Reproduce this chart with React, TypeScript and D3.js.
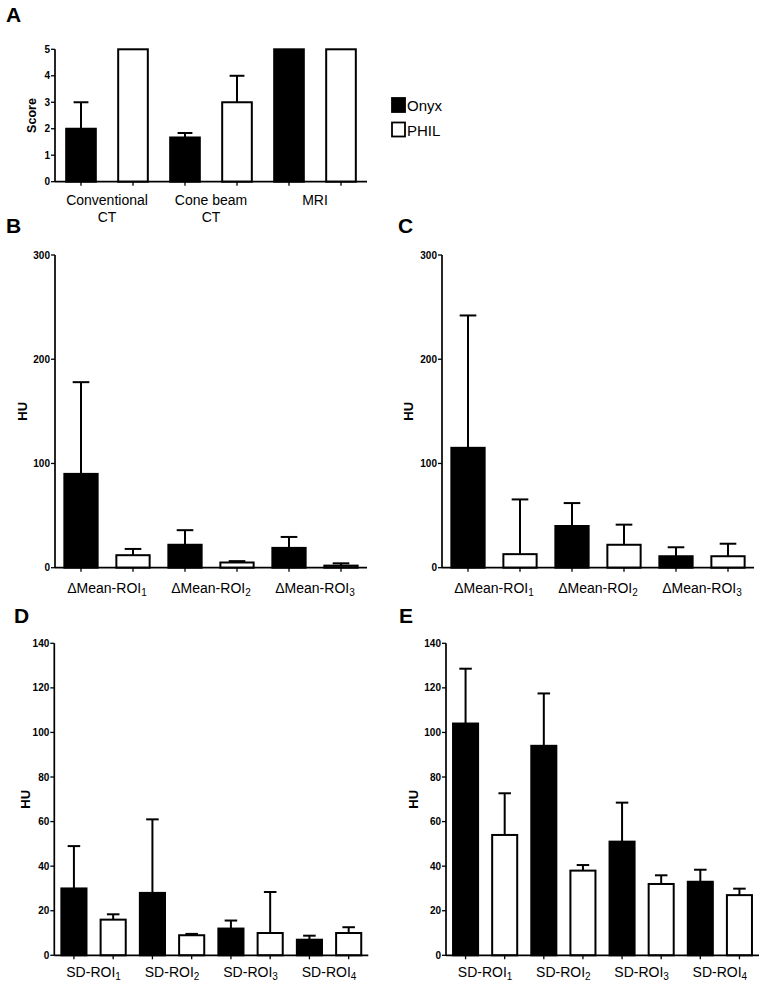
import React from "react";
import * as d3 from "d3";

const FONT = "'Liberation Sans', Arial, Helvetica, sans-serif";

const seriesNames = ["Onyx", "PHIL"];
const seriesFill = ["#000000", "#ffffff"];

// Panel A – qualitative score
const scoreCategories = [["Conventional", "CT"], ["Cone beam", "CT"], ["MRI"]];
const scoreOnyx = [2, 1.67, 5];
const scoreOnyxErr = [1, 0.17, 0];
const scorePhil = [5, 3, 5];
const scorePhilErr = [0, 1, 0];
const scoreTicks = [0, 1, 2, 3, 4, 5];

// Panels B & C – ΔMean-ROI
const meanPrefix = "ΔMean-ROI";
const meanSubscripts = ["1", "2", "3"];
const meanTicks = [0, 100, 200, 300];
const bOnyx = [90, 22, 19];
const bOnyxErr = [88, 14, 10.5];
const bPhil = [12, 5, 2];
const bPhilErr = [6, 1.3, 2.2];
const cOnyx = [115, 40, 11];
const cOnyxErr = [127, 22, 8.6];
const cPhil = [13, 22, 11];
const cPhilErr = [52.5, 19.3, 12];

// Panels D & E – SD-ROI
const sdPrefix = "SD-ROI";
const sdSubscripts = ["1", "2", "3", "4"];
const sdTicks = [0, 20, 40, 60, 80, 100, 120, 140];
const dOnyx = [30, 28, 12, 7];
const dOnyxErr = [19, 33, 3.6, 1.8];
const dPhil = [16, 9, 10, 10];
const dPhilErr = [2.4, 0.6, 18.4, 2.6];
const eOnyx = [104, 94, 51, 33];
const eOnyxErr = [24.6, 23.5, 17.5, 5.4];
const ePhil = [54, 38, 32, 27];
const ePhilErr = [18.7, 2.5, 3.9, 2.9];

type PanelProps = {
  letter: string;
  letterX: number;
  letterY: number;
  x0: number;
  x1: number;
  yZero: number;
  yTop: number;
  max: number;
  ticks: number[];
  pad: number;
  nCat: number;
  onyx: number[];
  onyxErr: number[];
  phil: number[];
  philErr: number[];
  yLabel: string;
  yLabelX: number;
  yLabelSize: number;
  labelY: number;
  renderLabel: (i: number, cx: number, y: number) => React.ReactNode;
};

function Panel(p: PanelProps) {
  const keys: string[] = [];
  for (let i = 0; i < p.nCat; i++) {
    keys.push(`${i}-0`);
    keys.push(`${i}-1`);
  }
  const x = d3
    .scaleBand<string>()
    .domain(keys)
    .range([p.x0, p.x1])
    .paddingInner(p.pad)
    .paddingOuter(p.pad / 2);
  const y = d3.scaleLinear().domain([0, p.max]).range([p.yZero, p.yTop]);
  const bw = x.bandwidth();
  const vals = [p.onyx, p.phil];
  const errs = [p.onyxErr, p.philErr];
  const bars: React.ReactNode[] = [];
  const errBars: React.ReactNode[] = [];
  for (let i = 0; i < p.nCat; i++) {
    for (let s = 0; s < 2; s++) {
      const key = `${i}-${s}`;
      const bx = x(key)!;
      const v = vals[s][i];
      const e = errs[s][i];
      const cx = bx + bw / 2;
      bars.push(
        <rect
          key={key}
          x={bx}
          y={y(v)}
          width={bw}
          height={y(0) - y(v)}
          fill={seriesFill[s]}
          stroke="#000"
          strokeWidth={2}
        />
      );
      if (e > 0) {
        errBars.push(
          <g key={key + "e"} stroke="#000" strokeWidth={2}>
            <line x1={cx} x2={cx} y1={y(v)} y2={y(v + e)} />
            <line x1={cx - bw / 4} x2={cx + bw / 4} y1={y(v + e)} y2={y(v + e)} />
          </g>
        );
      }
    }
  }
  const midY = (p.yZero + p.yTop) / 2;
  return (
    <g>
      <text x={p.letterX} y={p.letterY} fontSize={21} fontWeight="bold" fontFamily={FONT}>
        {p.letter}
      </text>
      {bars}
      {errBars}
      {/* y axis */}
      <line x1={p.x0} x2={p.x0} y1={y(0)} y2={y(p.max)} stroke="#000" strokeWidth={1.7} />
      {p.ticks.map((t) => (
        <g key={t}>
          <line x1={p.x0 - 4} x2={p.x0} y1={y(t)} y2={y(t)} stroke="#000" strokeWidth={1.3} />
          <text
            x={p.x0 - 5}
            y={y(t)}
            dy="0.35em"
            textAnchor="end"
            fontSize={10}
            fontWeight="bold"
            fontFamily={FONT}
          >
            {t}
          </text>
        </g>
      ))}
      {/* x axis */}
      <line x1={p.x0} x2={p.x1} y1={y(0)} y2={y(0)} stroke="#000" strokeWidth={1.7} />
      {keys.map((k) => (
        <line
          key={k}
          x1={x(k)! + bw / 2}
          x2={x(k)! + bw / 2}
          y1={y(0)}
          y2={y(0) + 4}
          stroke="#000"
          strokeWidth={1.3}
        />
      ))}
      <text
        transform={`translate(${p.yLabelX},${midY}) rotate(-90)`}
        textAnchor="middle"
        dy="0.35em"
        fontSize={p.yLabelSize}
        fontWeight="bold"
        fontFamily={FONT}
      >
        {p.yLabel}
      </text>
      {Array.from({ length: p.nCat }, (_, i) => {
        const c0 = x(`${i}-0`)! + bw / 2;
        const c1 = x(`${i}-1`)! + bw / 2;
        return <g key={"l" + i}>{p.renderLabel(i, (c0 + c1) / 2, p.labelY)}</g>;
      })}
    </g>
  );
}

const subLabel = (prefix: string, subs: string[]) => (i: number, cx: number, yy: number) => (
  <text x={cx} y={yy} textAnchor="middle" fontSize={14} fontFamily={FONT}>
    {prefix}
    <tspan fontSize={10} dy={3}>
      {subs[i]}
    </tspan>
  </text>
);

const scoreLabel = (i: number, cx: number, yy: number) => (
  <text x={cx} y={yy} textAnchor="middle" fontSize={14} fontFamily={FONT}>
    {scoreCategories[i].map((line, j) => (
      <tspan key={j} x={cx} dy={j === 0 ? 0 : 16.5}>
        {line}
      </tspan>
    ))}
  </text>
);

export default function App() {
  return (
    <svg
      width={760}
      height={981}
      style={{ position: "absolute", left: 0, top: 0, background: "#fff" }}
    >
      <rect width={760} height={981} fill="#fff" />
      <Panel
        letter="A"
        letterX={6}
        letterY={22}
        x0={55}
        x1={367}
        yZero={181.7}
        yTop={49.3}
        max={5}
        ticks={scoreTicks}
        pad={0.43}
        nCat={3}
        onyx={scoreOnyx}
        onyxErr={scoreOnyxErr}
        phil={scorePhil}
        philErr={scorePhilErr}
        yLabel="Score"
        yLabelX={32}
        yLabelSize={12.5}
        labelY={205}
        renderLabel={scoreLabel}
      />
      {/* legend */}
      <g fontFamily={FONT} fontSize={15}>
        {seriesNames.map((n, i) => (
          <g key={n}>
            <rect
              x={392}
              y={98 + i * 24.5}
              width={13}
              height={14}
              fill={seriesFill[i]}
              stroke="#000"
              strokeWidth={1.8}
            />
            <text x={407} y={111 + i * 24.5}>
              {n}
            </text>
          </g>
        ))}
      </g>
      <Panel
        letter="B"
        letterX={6}
        letterY={233}
        x0={55}
        x1={367}
        yZero={567.7}
        yTop={255}
        max={300}
        ticks={meanTicks}
        pad={0.36}
        nCat={3}
        onyx={bOnyx}
        onyxErr={bOnyxErr}
        phil={bPhil}
        philErr={bPhilErr}
        yLabel="HU"
        yLabelX={22}
        yLabelSize={13}
        labelY={593}
        renderLabel={subLabel(meanPrefix, meanSubscripts)}
      />
      <Panel
        letter="C"
        letterX={398}
        letterY={233}
        x0={442}
        x1={754}
        yZero={567.7}
        yTop={255}
        max={300}
        ticks={meanTicks}
        pad={0.36}
        nCat={3}
        onyx={cOnyx}
        onyxErr={cOnyxErr}
        phil={cPhil}
        philErr={cPhilErr}
        yLabel="HU"
        yLabelX={408}
        yLabelSize={13}
        labelY={593}
        renderLabel={subLabel(meanPrefix, meanSubscripts)}
      />
      <Panel
        letter="D"
        letterX={14}
        letterY={623}
        x0={54.3}
        x1={368.3}
        yZero={955.3}
        yTop={643.3}
        max={140}
        ticks={sdTicks}
        pad={0.36}
        nCat={4}
        onyx={dOnyx}
        onyxErr={dOnyxErr}
        phil={dPhil}
        philErr={dPhilErr}
        yLabel="HU"
        yLabelX={25}
        yLabelSize={13}
        labelY={977}
        renderLabel={subLabel(sdPrefix, sdSubscripts)}
      />
      <Panel
        letter="E"
        letterX={399}
        letterY={623}
        x0={446}
        x1={759}
        yZero={955.3}
        yTop={643.3}
        max={140}
        ticks={sdTicks}
        pad={0.36}
        nCat={4}
        onyx={eOnyx}
        onyxErr={eOnyxErr}
        phil={ePhil}
        philErr={ePhilErr}
        yLabel="HU"
        yLabelX={413}
        yLabelSize={13}
        labelY={977}
        renderLabel={subLabel(sdPrefix, sdSubscripts)}
      />
    </svg>
  );
}
